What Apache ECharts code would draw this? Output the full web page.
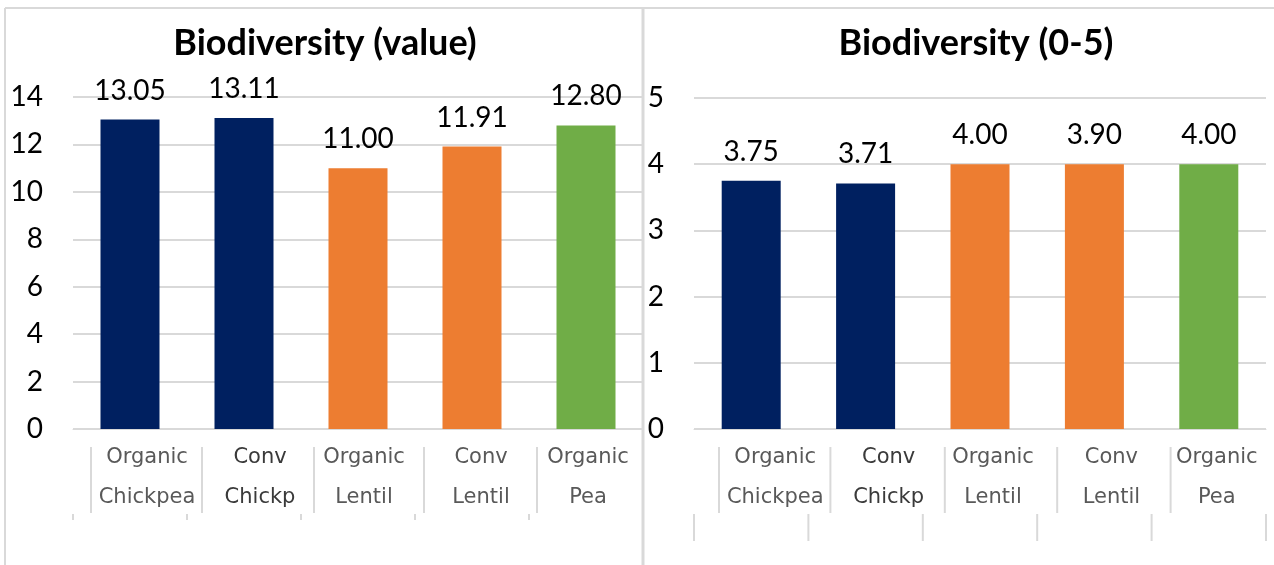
<!DOCTYPE html>
<html>
<head>
<meta charset="utf-8">
<script src="https://cdn.jsdelivr.net/npm/echarts@6/dist/echarts.min.js"></script>
<style>
  html, body { margin: 0; padding: 0; background: #fff; }
  #main { width: 1274px; height: 565px; }
</style>
</head>
<body>
<div id="main"></div>
<script>
const categories = ['Organic\nChickpea', 'Conv\nChickp', 'Organic\nLentil', 'Conv\nLentil', 'Organic\nPea']
const valueScores = [13.05, 13.11, 11.00, 11.91, 12.80]
const scaleBars = [3.75, 3.71, 4.00, 4.00, 4.00]
const scaleLabels = ['3.75', '3.71', '4.00', '3.90', '4.00']
const valueTicks = { min: 0, max: 14, interval: 2 }
const scaleTicks = { min: 0, max: 5, interval: 1 }
const barColors = ['#002060', '#002060', '#ED7D31', '#ED7D31', '#70AD47']

const W = 1274
const grids = [
    { left: 73, right: W - 643, top: 97, bottom: 136 },
    { left: 694, right: W - 1266, top: 98, bottom: 136 }
]
// label shift inside the cells under the axis, and where the cell lines sit
const labelShift = [[17, 16, 6, 9, 2], [24, 23, 13, 17, 8]]
const cellOffset = [[18, 15, 13, 9, 8], [25, 22, 22, 20, 19]]
const lowTick = [6, 27]
const gray = '#d9d9d9'

function boundary(g, k) {
    const gr = grids[g]
    return gr.left + k * (W - gr.left - gr.right) / 5
}

function xAxisFor(g) {
    const rich = {}
    labelShift[g].forEach((s, i) => {
        rich['c' + i] = {
            fontFamily: 'DejaVu Sans', fontSize: 21, lineHeight: 40,
            color: i === 1 ? '#3a3a3a' : '#595959', padding: [0, 0, 0, 2 * s]
        }
    })
    return {
        type: 'category', gridIndex: g, data: categories,
        axisLine: { lineStyle: { color: gray, width: 1 } },
        axisTick: { length: 18, lineStyle: { color: gray, width: 2 } },
        axisLabel: {
            margin: 9, interval: 0,
            formatter: (v, i) => v.split('\n').map(t => '{c' + i + '|' + t + '}').join('\n'),
            rich: rich
        }
    }
}

function yAxisFor(g, t) {
    return {
        type: 'value', gridIndex: g, min: t.min, max: t.max, interval: t.interval,
        axisLine: { show: false }, axisTick: { show: false },
        axisLabel: { margin: 30, color: '#000', fontFamily: 'Lato', fontSize: 28 },
        splitLine: { lineStyle: { color: gray, width: 2 } }
    }
}

const decor = []
function vline(x, y1, y2, w) {
    decor.push({ type: 'line', silent: true, shape: { x1: x, y1: y1, x2: x, y2: y2 }, style: { stroke: gray, lineWidth: w || 2 } })
}
decor.push({ type: 'line', silent: true, shape: { x1: 5, y1: 8, x2: W, y2: 8 }, style: { stroke: gray, lineWidth: 2 } })
vline(5, 8, 565)
vline(643, 8, 565, 3)
for (let g = 0; g < 2; g++) {
    for (let k = 0; k < 5; k++) {
        vline(boundary(g, k) + cellOffset[g][k], 447, 513)
    }
    for (let k = 0; k <= 5; k++) {
        vline(boundary(g, k), 514, 514 + lowTick[g])
    }
}

const labelStyle = { show: true, position: 'top', distance: 15, color: '#000', fontFamily: 'Lato', fontSize: 28, lineHeight: 28 }
const titleStyle = { fontFamily: 'Lato', fontWeight: 'bold', fontSize: 36, color: '#000' }

const chart = echarts.init(document.getElementById('main'))
chart.setOption({
    animation: false,
    title: [
        { text: 'Biodiversity (value)', left: 320, top: 20, textAlign: 'center', textStyle: titleStyle },
        { text: 'Biodiversity (0-5)', left: 971, top: 20, textAlign: 'center', textStyle: titleStyle }
    ],
    grid: grids,
    xAxis: [xAxisFor(0), xAxisFor(1)],
    yAxis: [yAxisFor(0, valueTicks), yAxisFor(1, scaleTicks)],
    series: [
        {
            type: 'bar', xAxisIndex: 0, yAxisIndex: 0, barWidth: 59,
            data: valueScores.map((v, i) => ({ value: v, itemStyle: { color: barColors[i] } })),
            label: Object.assign({ formatter: p => p.value.toFixed(2) }, labelStyle)
        },
        {
            type: 'bar', xAxisIndex: 1, yAxisIndex: 1, barWidth: 59,
            data: scaleBars.map((v, i) => ({ value: v, itemStyle: { color: barColors[i] } })),
            label: Object.assign({ formatter: p => scaleLabels[p.dataIndex] }, labelStyle)
        }
    ],
    graphic: decor
})
</script>
</body>
</html>
